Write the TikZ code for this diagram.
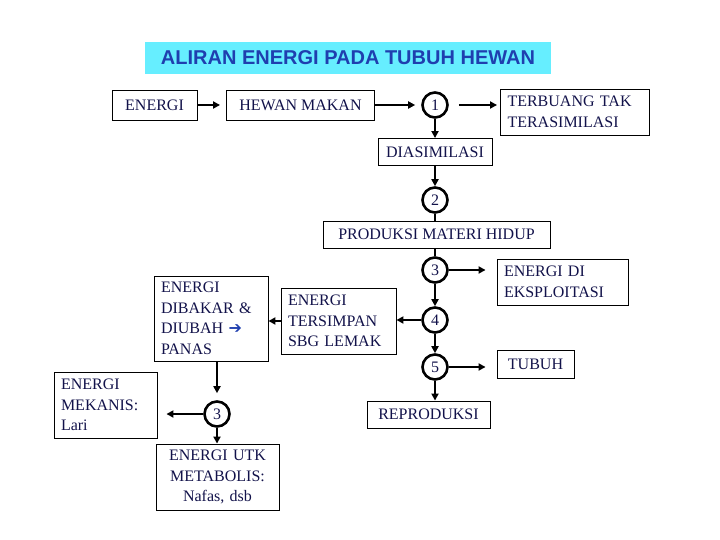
\documentclass[tikz,border=0pt]{standalone}
\usepackage{fontspec}
\setmainfont{Liberation Serif}
\newfontfamily\judulfont{Liberation Sans}
\newfontfamily\panahfont{DejaVu Sans}
\usetikzlibrary{arrows.meta}
\definecolor{tinta}{HTML}{12124A}
\definecolor{judulbiru}{HTML}{1F3FAF}
\definecolor{latarjudul}{HTML}{66EEFF}
\tikzset{
  kotak/.style={draw, line width=0.9pt, text=tinta, inner sep=0pt, align=center,
    font=\fontsize{16}{20.5}\selectfont},
  kotakkiri/.style={kotak, align=left, inner xsep=7pt},
  bulat/.style={circle, draw, line width=2.6pt, minimum size=25pt, inner sep=0pt,
    text=tinta, font=\fontsize{16}{16}\selectfont},
  panah/.style={-{Triangle[length=7pt,width=7pt]}, line width=2pt},
  garis/.style={line width=2pt}
}

\begin{document}
\begin{tikzpicture}[x=1pt, y=-1pt]
    \useasboundingbox (0,0) rectangle (720,540);
    \node[fill=latarjudul, minimum width=406pt, minimum height=32pt, text=judulbiru,
      font=\judulfont\bfseries\fontsize{20}{22}\selectfont] (judul) at (348,58) {ALIRAN ENERGI PADA TUBUH HEWAN};

    \node[kotak, minimum width=85pt, minimum height=30pt] (energi) at (154.5,105) {ENERGI};
    \node[kotak, minimum width=148pt, minimum height=30pt] (makan) at (300.5,105) {HEWAN MAKAN};
    \node[bulat] (n1) at (435,105) {1};
    \node[kotakkiri, text width=135pt, minimum height=46pt] (buang) at (575,112) {TERBUANG TAK\\TERASIMILASI};
    \node[kotak, minimum width=114pt, minimum height=27pt] (disim) at (435,152) {DIASIMILASI};
    \node[bulat] (n2) at (435,200) {2};
    \node[kotak, minimum width=227pt, minimum height=27pt] (produksi) at (436.5,234.5) {PRODUKSI MATERI HIDUP};
    \node[bulat] (n3) at (435,270) {3};
    \node[kotakkiri, text width=117pt, minimum height=46pt] (eksploitasi) at (562.5,282) {ENERGI DI\\EKSPLOITASI};
    \node[bulat] (n4) at (435,320) {4};
    \node[kotakkiri, text width=101pt, minimum height=66pt] (lemak) at (338.5,321) {ENERGI\\TERSIMPAN\\SBG LEMAK};
    \node[bulat] (n5) at (435,367) {5};
    \node[kotak, minimum width=77pt, minimum height=28pt] (tubuh) at (535.5,364.5) {TUBUH};
    \node[kotak, minimum width=123pt, minimum height=27pt] (reproduksi) at (428.5,414.5) {REPRODUKSI};

    \node[kotakkiri, text width=100pt, minimum height=85pt] (dibakar) at (211,318.5) {ENERGI\\DIBAKAR \&\\DIUBAH {\panahfont\color{judulbiru}➔}\\PANAS};
    \node[bulat] (m3) at (217,414) {3};
    \node[kotakkiri, text width=89pt, minimum height=66pt] (mekanis) at (105.5,405) {ENERGI\\MEKANIS:\\Lari};
    \node[kotak, text width=109pt, inner xsep=7pt, minimum height=66pt] (metabolis) at (217.5,477) {ENERGI UTK\\METABOLIS:\\Nafas, dsb};

    % jalur utama
    \draw[panah, shorten >=6pt] (energi) -- (makan);
    \draw[panah, shorten >=6pt] (makan) -- (n1);
    \draw[panah, shorten <=10pt, shorten >=3pt] (n1) -- (n1 -| buang.west);
    \draw[panah] (n1) -- (disim);
    \draw[panah] (disim) -- (n2);
    \draw[garis] (n2) -- (n2 |- produksi.north);
    \draw[garis] (produksi.south -| n3) -- (n3);
    \draw[panah, shorten >=11pt] (n3) -- (n3 -| eksploitasi.west);
    \draw[panah] (n3) -- (n4);
    \draw[panah] (n4) -- (n4 -| lemak.east);
    \draw[panah] (n4) -- (n5);
    \draw[panah, shorten >=11pt] (n5) -- (n5 -| tubuh.west);
    \draw[panah] (n5) -- (n5 |- reproduksi.north);

    % cabang kiri
    \draw[panah] (lemak.west) -- (lemak.west -| dibakar.east);
    \draw[panah, shorten >=7pt] (dibakar.south -| m3) -- (m3);
    \draw[panah, shorten >=9pt] (m3) -- (m3 -| mekanis.east);
    \draw[panah] (m3) -- (m3 |- metabolis.north);
\end{tikzpicture}
\end{document}
